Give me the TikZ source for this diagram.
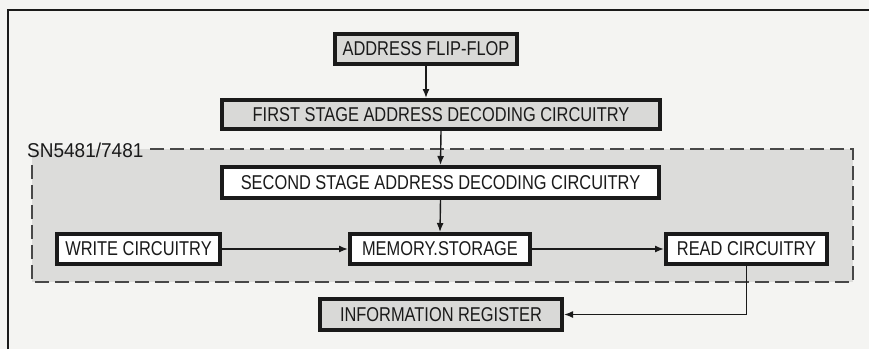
\documentclass[tikz,border=0pt]{standalone}
\usepackage{fontspec}
\setmainfont{Liberation Sans}[FakeStretch=0.82]
\newfontfamily\lblfont{Liberation Sans}[FakeStretch=0.95]
\usetikzlibrary{arrows.meta}
\definecolor{paper}{HTML}{F4F4F2}
\definecolor{boxgray}{HTML}{D9D9D7}
\definecolor{regiongray}{HTML}{DCDCDA}
\definecolor{ink}{HTML}{1A1A1A}
\tikzset{
  blk/.style={draw=ink, line width=4pt, inner sep=0pt, font=\fontsize{20}{20}\selectfont, text=ink},
  outerblk/.style={blk, fill=boxgray},
  innerblk/.style={blk, fill=white},
  conn/.style={draw=ink, line width=1.4pt, -{Latex[length=9pt,width=7pt]}},
}
\begin{document}
\begin{tikzpicture}[x=1pt,y=-1pt]
\useasboundingbox (0,0) rectangle (869,349);
\fill[paper] (0,0) rectangle (869,349);
% frame
\draw[ink, line width=2pt] (8,349) -- (8,10) -- (869,10);
% region
\fill[regiongray] (32,149) rectangle (853,282);
\draw[ink!80, line width=1.1pt, dash pattern=on 14pt off 6pt] (150,149) -- (853,149) -- (853,282) -- (32,282) -- (32,162);
\node[anchor=west, inner sep=0pt, font=\lblfont\fontsize{20}{20}\selectfont, text=ink] (lbl) at (27,150) {SN5481/7481};
% boxes
\node[outerblk, minimum width=182pt, minimum height=30pt] (flip) at (426,49) {ADDRESS FLIP-FLOP};
\node[outerblk, minimum width=438pt, minimum height=29pt] (first) at (441,114.5) {FIRST STAGE ADDRESS DECODING CIRCUITRY};
\node[innerblk, minimum width=437pt, minimum height=31pt] (second) at (440.5,182.5) {SECOND STAGE ADDRESS DECODING CIRCUITRY};
\node[innerblk, minimum width=163pt, minimum height=30pt] (write) at (138.5,249) {WRITE CIRCUITRY};
\node[innerblk, minimum width=180pt, minimum height=30pt] (mem) at (440,249) {MEMORY.STORAGE};
\node[innerblk, minimum width=161pt, minimum height=30pt] (read) at (746.5,249) {READ CIRCUITRY};
\node[outerblk, minimum width=242pt, minimum height=31pt] (info) at (441,314.5) {INFORMATION REGISTER};
% connectors
\draw[conn] (flip.south) -- (flip.south |- first.north);
\draw[conn] (first.south) -- (second.north);
\draw[conn] (second.south) -- (mem.north);
\draw[conn] (write.east) -- (mem.west);
\draw[conn] (mem.east) -- (read.west);
\draw[conn] (read.south) -- (read.south |- info.east) -- (info.east);
\end{tikzpicture}
\end{document}
